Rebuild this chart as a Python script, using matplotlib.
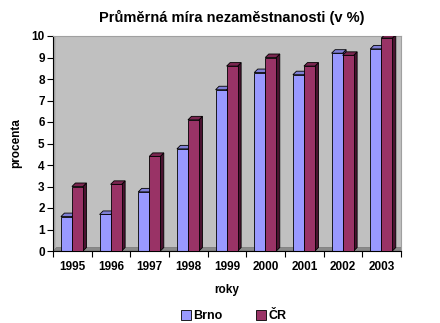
import matplotlib.pyplot as plt
import numpy as np
from matplotlib.patches import Polygon
from matplotlib.lines import Line2D

plt.rcParams['font.family'] = ['Liberation Sans', 'DejaVu Sans']
plt.rcParams['font.weight'] = 'bold'

# Data
years = ["1995", "1996", "1997", "1998", "1999", "2000", "2001", "2002", "2003"]
brno = [1.6, 1.7, 2.75, 4.75, 7.5, 8.3, 8.2, 9.2, 9.4]
cr = [3.0, 3.1, 4.4, 6.1, 8.6, 9.0, 8.6, 9.1, 9.9]
series_names = ["Brno", "ČR"]

front = ["#9999ff", "#993366"]
top = ["#7f7fd6", "#7a2650"]
side = ["#5c5ca8", "#4a1330"]

fig = plt.figure(figsize=(4.4, 3.23), dpi=100)
ax = fig.add_axes([53 / 440, 72 / 323, 348 / 440, 215 / 323])
ax.set_facecolor("#c0c0c0")

n = len(years)
x = np.arange(n)
ax.set_xlim(-0.5, n - 0.5)
ax.set_ylim(0, 10)

# depth of the pseudo-3D faces, in data units (about 3.5 px)
ax_w = 348 / n
ax_h = 215 / 10
dx = 3.5 / ax_w
dy = 3.5 / ax_h

# floor strip and left side wall
ax.add_patch(Polygon([(-0.5, 0), (n - 0.5, 0), (n - 0.5 + dx, dy), (-0.5 + dx, dy)],
                     closed=True, fc="#8a8a8a", ec="#777777", lw=0.5, zorder=1))
ax.add_patch(Polygon([(-0.5, 0), (-0.5 + dx * 0.7, dy), (-0.5 + dx * 0.7, 10), (-0.5, 10)],
                     closed=True, fc="#a6a6a6", ec="none", zorder=1))

width = 0.285
for i, vals in enumerate([brno, cr]):
    xs = x + (i - 1) * width - 0.01
    for xi, v in zip(xs, vals):
        l, r = xi, xi + width
        ax.add_patch(Polygon([(r, 0), (r + dx, dy), (r + dx, v + dy), (r, v)],
                             closed=True, fc=side[i], ec="black", lw=0.6, zorder=2 + i))
        ax.add_patch(Polygon([(l, v), (l + dx, v + dy), (r + dx, v + dy), (r, v)],
                             closed=True, fc=top[i], ec="black", lw=0.6, zorder=2 + i))
    ax.bar(xs, vals, width, align="edge", color=front[i], edgecolor="black",
           linewidth=0.6, zorder=2 + i)

for s in ["top", "right"]:
    ax.spines[s].set_color("#a0a0a0")
    ax.spines[s].set_linewidth(0.8)
ax.spines["left"].set_linewidth(0.8)
ax.spines["bottom"].set_linewidth(0.8)

ax.set_yticks(range(0, 11))
ax.tick_params(axis="y", labelsize=8.5, length=4, width=0.8, pad=2)
ax.set_xticks(x)
ax.set_xticklabels(years)
ax.set_xticks(np.arange(-0.5, n), minor=True)
ax.tick_params(axis="x", which="major", length=0, labelsize=8.5, pad=7)
ax.tick_params(axis="x", which="minor", length=4, width=0.8)

ax.set_xlabel("roky", fontsize=8.5, fontweight="bold", labelpad=8)
ax.set_ylabel("procenta", fontsize=8.5, fontweight="bold", labelpad=7)
fig.suptitle("Průměrná míra nezaměstnanosti (v %)", fontsize=10.5, fontweight="bold",
             x=232 / 440, y=1 - 17 / 323, va="center")

handles = [Line2D([], [], marker="s", linestyle="none", markersize=7,
                  markerfacecolor=front[i], markeredgecolor="black", markeredgewidth=0.6)
           for i in range(2)]
fig.legend(handles, series_names, loc="center", bbox_to_anchor=(233 / 440, 1 - 316 / 323),
           ncol=2, frameon=False, fontsize=9, handletextpad=0.1, columnspacing=2.6,
           handlelength=1)

fig.savefig("out.png", dpi=100)
